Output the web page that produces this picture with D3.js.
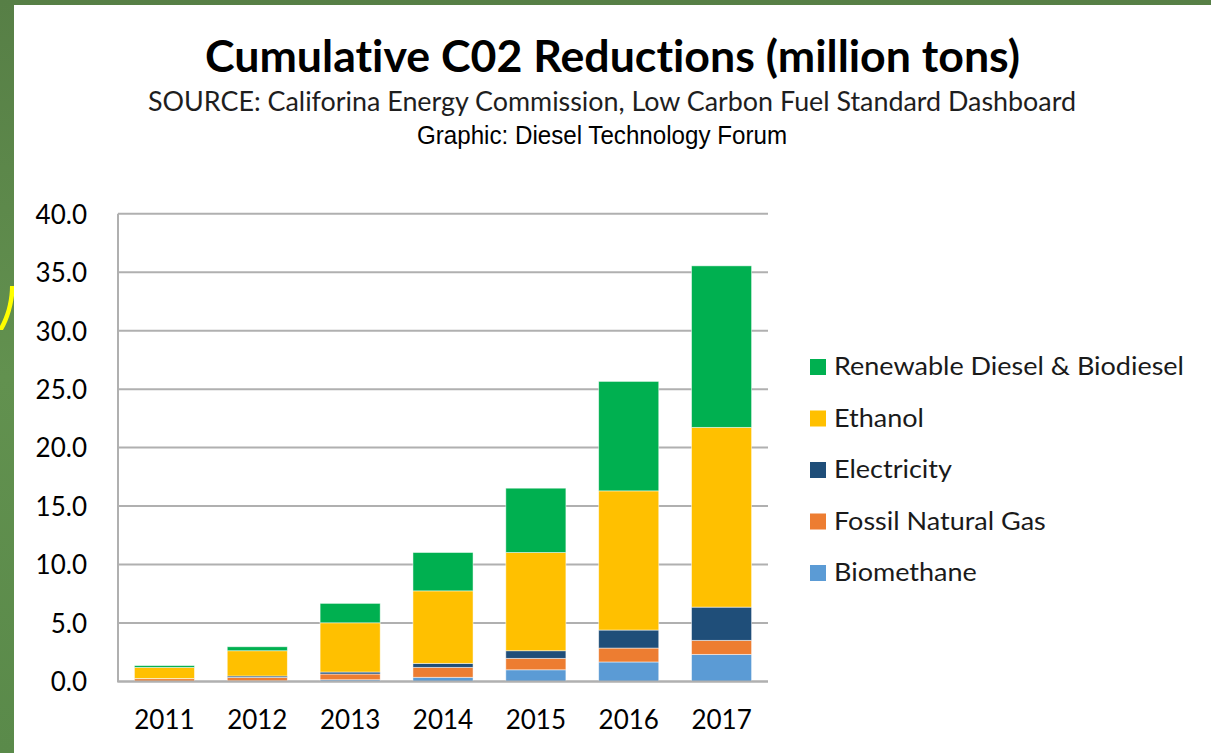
<!DOCTYPE html>
<html>
<head>
<meta charset="utf-8">
<script src="https://cdn.jsdelivr.net/npm/d3@7"></script>
<style>
  html, body { margin: 0; padding: 0; background: #5c8b4c; }
  svg { display: block; }
  text { font-family: Lato, "Open Sans", sans-serif; fill: #000; font-variant-ligatures: none; font-feature-settings: "liga" 0, "clig" 0; }
</style>
</head>
<body>
<svg id="chart" width="1211" height="753"></svg>
<script>
// ---- data ----
const years = ['2011', '2012', '2013', '2014', '2015', '2016', '2017'];
const seriesNames = ['Biomethane', 'Fossil Natural Gas', 'Electricity', 'Ethanol', 'Renewable Diesel & Biodiesel'];
const biomethane       = [0.02, 0.05, 0.15, 0.36, 1.00, 1.67, 2.32];
const fossilNaturalGas = [0.22, 0.30, 0.49, 0.85, 0.98, 1.19, 1.20];
const electricity      = [0.02, 0.12, 0.17, 0.34, 0.65, 1.54, 2.84];
const ethanol          = [0.95, 2.16, 4.21, 6.20, 8.40, 11.90, 15.37];
const renewableDiesel  = [0.15, 0.34, 1.66, 3.28, 5.50, 9.36, 13.81];
const yTicks = [0, 5, 10, 15, 20, 25, 30, 35, 40];
const titleText = 'Cumulative C02 Reductions (million tons)';
const subtitleText = 'SOURCE: Califorina Energy Commission, Low Carbon Fuel Standard Dashboard';
const creditText = 'Graphic: Diesel Technology Forum';

const colors = {
  'Biomethane': '#5b9bd5',
  'Fossil Natural Gas': '#ed7d31',
  'Electricity': '#1f4e79',
  'Ethanol': '#ffc000',
  'Renewable Diesel & Biodiesel': '#00b050'
};
const valuesBySeries = {
  'Biomethane': biomethane,
  'Fossil Natural Gas': fossilNaturalGas,
  'Electricity': electricity,
  'Ethanol': ethanol,
  'Renewable Diesel & Biodiesel': renewableDiesel
};

const rows = years.map((y, i) => {
  const r = { year: y };
  seriesNames.forEach(s => r[s] = valuesBySeries[s][i]);
  return r;
});

const svg = d3.select('#chart');

// green textured background
const defs = svg.append('defs');
const grad = defs.append('linearGradient').attr('id', 'bg').attr('x1', 0).attr('y1', 0).attr('x2', 0).attr('y2', 1);
grad.append('stop').attr('offset', '0%').attr('stop-color', '#577f46');
grad.append('stop').attr('offset', '50%').attr('stop-color', '#62914f');
grad.append('stop').attr('offset', '100%').attr('stop-color', '#5a8a4a');
svg.append('rect').attr('width', 1211).attr('height', 753).attr('fill', 'url(#bg)');

// stray yellow stroke at left edge (fragment of an underlying slide glyph)
svg.append('path')
  .attr('d', 'M10,286 C10,298 7,312 2,322 L-2,330 L3,330 C9,320 14,304 15,286 Z')
  .attr('fill', '#ffff00');

// white panel
svg.append('rect').attr('x', 14).attr('y', 5).attr('width', 1211 - 14).attr('height', 753 - 5).attr('fill', '#fff');

// titles
function fitText(sel, width) {
  sel.attr('textLength', width).attr('lengthAdjust', 'spacingAndGlyphs');
}
svg.append('text').attr('x', 205).attr('y', 72)
  .style('font-weight', 700).style('font-size', '43px').text(titleText).call(fitText, 815);
svg.append('text').attr('x', 148).attr('y', 111)
  .style('font-size', '26px').style('fill', '#1e1e1e').text(subtitleText).call(fitText, 928);
svg.append('text').attr('x', 417).attr('y', 144)
  .style('font-family', '"Liberation Sans Narrow", "Liberation Sans", Arial, sans-serif')
  .style('font-size', '25px').text(creditText).call(fitText, 370);

// scales
const x = d3.scaleBand().domain(years).range([118, 768]).paddingInner(0.353).paddingOuter(0.1765);
const y = d3.scaleLinear().domain([0, 40]).range([681.5, 213.7]);

// gridlines
svg.append('g').selectAll('line').data(yTicks).join('line')
  .attr('x1', 118).attr('x2', 768)
  .attr('y1', d => y(d)).attr('y2', d => y(d))
  .attr('stroke', '#b0b0b0').attr('stroke-width', 2);

// y axis labels
const yAxis = d3.axisLeft(y).tickValues(yTicks).tickFormat(d3.format('.1f')).tickSize(0).tickPadding(31);
const gy = svg.append('g').attr('transform', 'translate(118,0)').call(yAxis);
gy.select('.domain').remove();
gy.selectAll('text').style('font-family', 'Lato, sans-serif').style('font-size', '26px').attr('fill', '#000').attr('dy', '0.36em');

// stacked bars
const stack = d3.stack().keys(seriesNames);
const layers = stack(rows);
svg.append('g').selectAll('g').data(layers).join('g')
  .attr('fill', d => colors[d.key])
  .selectAll('rect').data(d => d).join('rect')
  .attr('x', d => x(d.data.year))
  .attr('width', x.bandwidth())
  .attr('y', d => y(d[1]))
  .attr('height', d => y(d[0]) - y(d[1]))
  .attr('stroke', 'rgba(255,255,255,0.6)').attr('stroke-width', 0.8);

// axes lines
svg.append('line').attr('x1', 118).attr('x2', 118).attr('y1', y(40)).attr('y2', y(0))
  .attr('stroke', '#b0b0b0').attr('stroke-width', 2);
svg.append('line').attr('x1', 117).attr('x2', 768).attr('y1', y(0)).attr('y2', y(0))
  .attr('stroke', '#b0b0b0').attr('stroke-width', 2);

// x axis labels
const xAxis = d3.axisBottom(x).tickSize(0).tickPadding(29);
const gx = svg.append('g').attr('transform', `translate(0,${y(0)})`).call(xAxis);
gx.select('.domain').remove();
gx.selectAll('text').style('font-family', 'Lato, sans-serif').style('font-size', '26px').attr('fill', '#000');

// legend (top to bottom: reverse of stack order)
const legendOrder = seriesNames.slice().reverse();
const lg = svg.append('g').selectAll('g').data(legendOrder).join('g')
  .attr('transform', (d, i) => `translate(810,${359 + i * 51.5})`);
lg.append('rect').attr('width', 16).attr('height', 16).attr('fill', d => colors[d]);
const lt = lg.append('text').attr('x', 24).attr('y', 16)
  .style('font-size', '25px').style('fill', '#1a1a1a').text(d => d);
// widen uniformly so the longest entry spans the same width as the reference's (≈350px)
const lens = lt.nodes().map(n => n.getComputedTextLength());
const k = 350 / lens[0];
lt.each(function (d, i) {
  d3.select(this).attr('textLength', lens[i] * k).attr('lengthAdjust', 'spacingAndGlyphs');
});
</script>
</body>
</html>
